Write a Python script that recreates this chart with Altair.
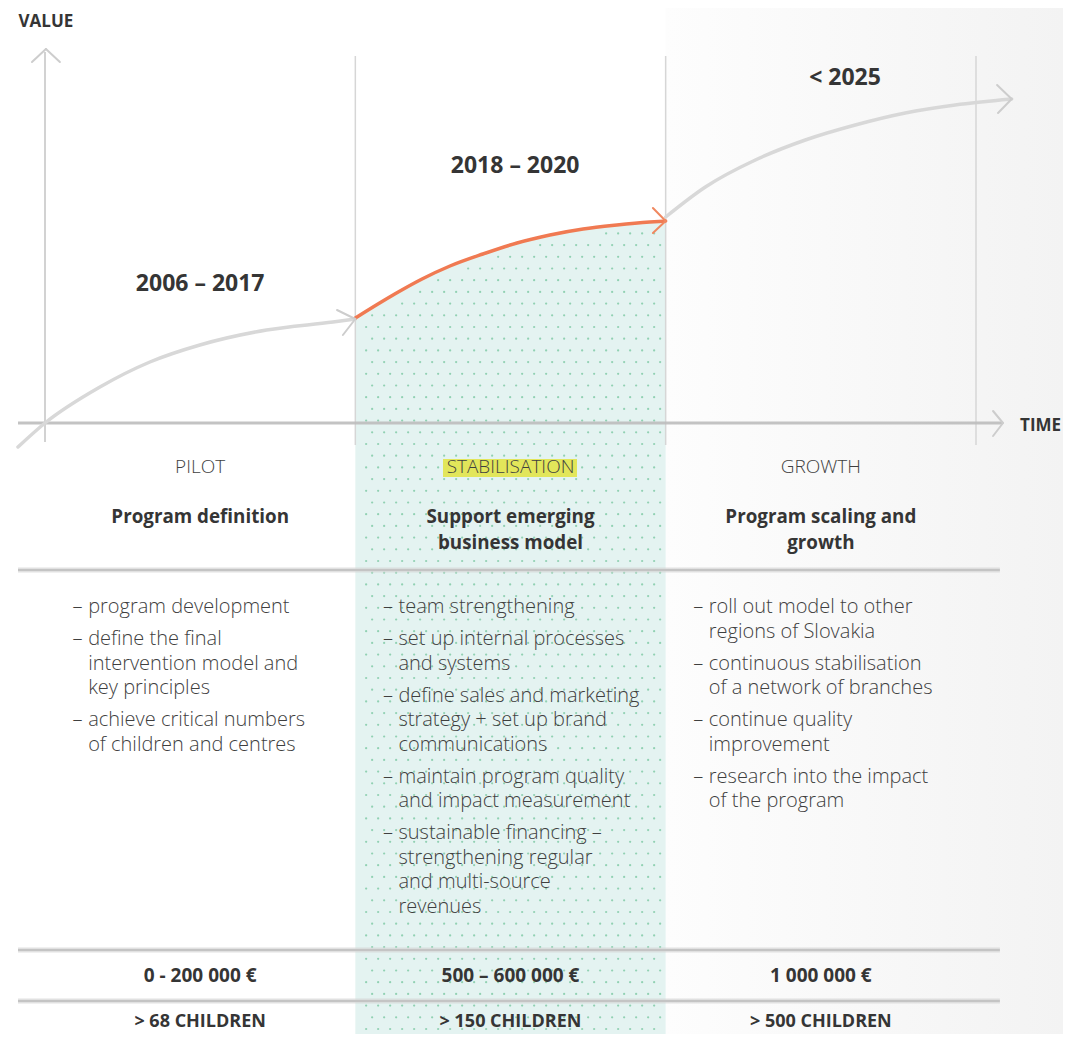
import altair as alt
import pandas as pd
import numpy as np

# ---------------- data ----------------
# time in phase units (0 = pilot start, 1 = 2018, 2 = 2021, 3 = 2025); value in relative units (0 = time axis)
phases = ["PILOT", "STABILISATION", "GROWTH"]
periods = ["2006 – 2017", "2018 – 2020", "< 2025"]
goals = [["Program definition"], ["Support emerging", "business model"], ["Program scaling and", "growth"]]
activities = [
    [["program development"],
     ["define the final", "intervention model and", "key principles"],
     ["achieve critical numbers", "of children and centres"]],
    [["team strengthening"],
     ["set up internal processes", "and systems"],
     ["define sales and marketing", "strategy + set up brand", "communications"],
     ["maintain program quality", "and impact measurement"],
     ["sustainable financing –", "strengthening regular", "and multi-source", "revenues"]],
    [["roll out model to other", "regions of Slovakia"],
     ["continuous stabilisation", "of a network of branches"],
     ["continue quality", "improvement"],
     ["research into the impact", "of the program"]],
]
budgets = ["0 - 200 000 €", "500 – 600 000 €", "1 000 000 €"]
children = ["> 68 CHILDREN", "> 150 CHILDREN", "> 500 CHILDREN"]

pilot_t = [-0.087, 0.0, 0.177, 0.338, 0.499, 0.714, 0.928, 1.0]
pilot_v = [-24, 0, 36, 61, 78, 93, 101, 104]
stab_t = [1.0, 1.089, 1.144, 1.215, 1.305, 1.411, 1.521, 1.627, 1.734, 1.843, 1.949, 2.0]
stab_v = [105, 122, 132, 144, 157, 169, 180, 188, 194, 198, 201, 202]
growth_t = [2.0, 2.128, 2.289, 2.450, 2.611, 2.772, 2.933, 3.115]
growth_v = [206, 236, 263, 283, 298, 310, 318, 324]

# ---------------- layout ----------------
T_MIN, T_MAX = -0.11923, 3.28038
V_MIN, V_MAX = -611, 415
XS = alt.Scale(domain=[T_MIN, T_MAX], nice=False, zero=False)
YS = alt.Scale(domain=[V_MIN, V_MAX], nice=False, zero=False)


def X(f="t"):
    return alt.X(f, type="quantitative", scale=XS, axis=None)


def Y(f="v"):
    return alt.Y(f, type="quantitative", scale=YS, axis=None)


FONT = "Open Sans"
DARK = "#353535"
MID = "#3f3f3f"

# background gradient for growth column
bg = pd.DataFrame({"t": [2.0], "t2": [T_MAX], "v": [V_MIN], "v2": [V_MAX]})
bg_layer = alt.Chart(bg).mark_rect(
    color=alt.LinearGradient(
        gradient="linear",
        stops=[alt.GradientStop(color="#fdfdfd", offset=0),
               alt.GradientStop(color="#f3f3f3", offset=1)],
        x1=0, x2=1, y1=0, y2=0)
).encode(x=X("t"), x2="t2", y=Y("v"), y2="v2")

# teal area under the stabilisation curve
stab = pd.DataFrame({"t": stab_t, "v": stab_v})
area_layer = alt.Chart(stab).mark_area(color="#e4f3f1", interpolate="monotone").encode(
    x=X("t"), y=Y("v"), y2=alt.datum(V_MIN))

# dotted texture inside the teal area
dx = 12 / 310.33
dy = 11.7
rows = []
j = 0
vv = V_MIN + 5
while vv < 205:
    off = dx / 2 if j % 2 else 0
    tt = 1.0 + dx * 0.9 + off
    while tt < 1.99:
        top = np.interp(tt, stab_t, stab_v)
        if vv < top - 7:
            rows.append({"t": tt, "v": vv})
        tt += dx
    vv += dy
    j += 1
dots = pd.DataFrame(rows)
dots_layer = alt.Chart(dots).mark_point(filled=True, size=5, color="#7cc8a2", opacity=0.8).encode(
    x=X("t"), y=Y("v"))

# guides: value axis, phase dividers, time axis, separators
guides = pd.DataFrame([
    {"t": 0.0, "t2": 0.0, "v": -19, "v2": 371, "kind": "vaxis"},
    {"t": 1.0, "t2": 1.0, "v": -22, "v2": 367, "kind": "div"},
    {"t": 2.0, "t2": 2.0, "v": -22, "v2": 367, "kind": "div"},
    {"t": 3.0, "t2": 3.0, "v": -22, "v2": 367, "kind": "div"},
])
vaxis_layer = alt.Chart(guides[guides.kind == "vaxis"]).mark_rule(color="#d2d2d2", strokeWidth=2).encode(
    x=X("t"), x2="t2", y=Y("v"), y2="v2")
div_layer = alt.Chart(guides[guides.kind == "div"]).mark_rule(color="#d6d6d6", strokeWidth=1.5).encode(
    x=X("t"), x2="t2", y=Y("v"), y2="v2")

taxis = pd.DataFrame({"t": [-0.087], "t2": [3.087], "v": [0], "v2": [0]})
taxis_layer = alt.Chart(taxis).mark_rule(color="#bcbcbc", strokeWidth=3, opacity=0.9).encode(
    x=X("t"), x2="t2", y=Y("v"), y2="v2")

seps = pd.DataFrame({"t": [-0.087] * 3, "t2": [3.077] * 3, "v": [-147, -527, -578], "v2": [-147, -527, -578]})
seps_wide = alt.Chart(seps).mark_rule(color="#d4d4d4", strokeWidth=5, opacity=0.7).encode(
    x=X("t"), x2="t2", y=Y("v"), y2="v2")
seps_core = alt.Chart(seps).mark_rule(color="#c4c4c4", strokeWidth=2).encode(
    x=X("t"), x2="t2", y=Y("v"), y2="v2")

# curves
pilot = pd.DataFrame({"t": pilot_t, "v": pilot_v})
growth = pd.DataFrame({"t": growth_t, "v": growth_v})
pilot_layer = alt.Chart(pilot).mark_line(color="#d8d8d8", strokeWidth=3.5, interpolate="monotone",
                                         strokeCap="round").encode(x=X("t"), y=Y("v"))
growth_layer = alt.Chart(growth).mark_line(color="#d8d8d8", strokeWidth=3.5, interpolate="monotone",
                                           strokeCap="round").encode(x=X("t"), y=Y("v"))
stab_layer = alt.Chart(stab).mark_line(color="#f07a52", strokeWidth=3.5, interpolate="monotone",
                                       strokeCap="round").encode(x=X("t"), y=Y("v"))

# arrowheads (tip -> wing segments)
heads = pd.DataFrame([
    {"t": 1.0, "v": 104, "t2": 0.941, "v2": 113, "c": "g"},
    {"t": 1.0, "v": 104, "t2": 0.960, "v2": 88, "c": "g"},
    {"t": 3.115, "v": 324, "t2": 3.068, "v2": 338, "c": "g"},
    {"t": 3.115, "v": 324, "t2": 3.071, "v2": 310, "c": "g"},
    {"t": 3.087, "v": 0, "t2": 3.055, "v2": 12, "c": "g"},
    {"t": 3.087, "v": 0, "t2": 3.055, "v2": -13, "c": "g"},
    {"t": 0.003, "v": 374, "t2": -0.042, "v2": 361, "c": "g"},
    {"t": 0.003, "v": 374, "t2": 0.048, "v2": 361, "c": "g"},
    {"t": 2.0, "v": 202, "t2": 1.959, "v2": 215, "c": "o"},
    {"t": 2.0, "v": 202, "t2": 1.959, "v2": 190, "c": "o"},
])
heads_g = alt.Chart(heads[heads.c == "g"]).mark_rule(color="#cdcdcd", strokeWidth=2, strokeCap="round").encode(
    x=X("t"), x2="t2", y=Y("v"), y2="v2")
heads_o = alt.Chart(heads[heads.c == "o"]).mark_rule(color="#f08860", strokeWidth=2, strokeCap="round").encode(
    x=X("t"), x2="t2", y=Y("v"), y2="v2")

# highlight behind STABILISATION
hl = pd.DataFrame({"t": [1.2825], "t2": [1.7143], "v": [-36], "v2": [-54]})
hl_layer = alt.Chart(hl).mark_rect(color="#e2e65a").encode(x=X("t"), x2="t2", y=Y("v"), y2="v2")

# ---------------- texts ----------------
centers = [0.5, 1.5, 2.5]

value_txt = alt.Chart(pd.DataFrame({"t": [0.003], "v": [401], "label": ["VALUE"]})).mark_text(
    font=FONT, fontSize=17, fontWeight="bold", color=DARK, align="center", baseline="middle").encode(
    x=X("t"), y=Y("v"), text="label:N")
time_txt = alt.Chart(pd.DataFrame({"t": [3.142], "v": [-3], "label": ["TIME"]})).mark_text(
    font=FONT, fontSize=17, fontWeight="bold", color=DARK, align="left", baseline="middle").encode(
    x=X("t"), y=Y("v"), text="label:N")

period_df = pd.DataFrame({"t": [0.5, 1.515, 2.578], "v": [139, 257, 345], "label": periods})
period_layer = alt.Chart(period_df).mark_text(font=FONT, fontSize=23, fontWeight="bold", color=DARK,
                                              align="center", baseline="middle").encode(
    x=X("t"), y=Y("v"), text="label:N")

phase_df = pd.DataFrame({"t": centers, "v": [-44] * 3, "label": phases})
phase_layer = alt.Chart(phase_df).mark_text(font=FONT, fontSize=19, fontWeight=300, color=MID,
                                            align="center", baseline="middle").encode(
    x=X("t"), y=Y("v"), text="label:N")

goal_rows = []
for i, lines in enumerate(goals):
    for k, line in enumerate(lines):
        goal_rows.append({"t": centers[i], "v": -94 - 26 * k, "label": line})
goal_layer = alt.Chart(pd.DataFrame(goal_rows)).mark_text(font=FONT, fontSize=18.8, fontWeight="bold",
                                                          color=DARK, align="center", baseline="middle").encode(
    x=X("t"), y=Y("v"), text="label:N")

act_rows, dash_rows = [], []
for i, items in enumerate(activities):
    li = 0
    for it, lines in enumerate(items):
        for k, line in enumerate(lines):
            v = -184 - 24.5 * li - 7.5 * it
            act_rows.append({"t": i + 0.139, "v": v, "label": line})
            if k == 0:
                dash_rows.append({"t": i + 0.089, "v": v, "label": "–"})
            li += 1
act_layer = alt.Chart(pd.DataFrame(act_rows)).mark_text(font=FONT, fontSize=20, fontWeight=300, color=MID,
                                                        align="left", baseline="middle").encode(
    x=X("t"), y=Y("v"), text="label:N")
dash_layer = alt.Chart(pd.DataFrame(dash_rows)).mark_text(font=FONT, fontSize=20, fontWeight=300, color=MID,
                                                          align="left", baseline="middle").encode(
    x=X("t"), y=Y("v"), text="label:N")

budget_df = pd.DataFrame({"t": centers, "v": [-553] * 3, "label": budgets})
budget_layer = alt.Chart(budget_df).mark_text(font=FONT, fontSize=19, fontWeight="bold", color=DARK,
                                              align="center", baseline="middle").encode(
    x=X("t"), y=Y("v"), text="label:N")
child_df = pd.DataFrame({"t": centers, "v": [-599] * 3, "label": children})
child_layer = alt.Chart(child_df).mark_text(font=FONT, fontSize=18, fontWeight="bold", color=DARK,
                                            align="center", baseline="middle").encode(
    x=X("t"), y=Y("v"), text="label:N")

chart = alt.layer(
    bg_layer, area_layer, dots_layer,
    vaxis_layer, div_layer, taxis_layer, seps_wide, seps_core,
    pilot_layer, growth_layer, stab_layer, heads_g, heads_o,
    hl_layer,
    value_txt, time_txt, period_layer, phase_layer, goal_layer, act_layer, dash_layer,
    budget_layer, child_layer,
).properties(
    width=1055, height=1026, padding=0, autosize="none", background="white"
).configure_view(stroke=None)

chart.save("out.html", embed_options={"renderer": "svg", "actions": False})
